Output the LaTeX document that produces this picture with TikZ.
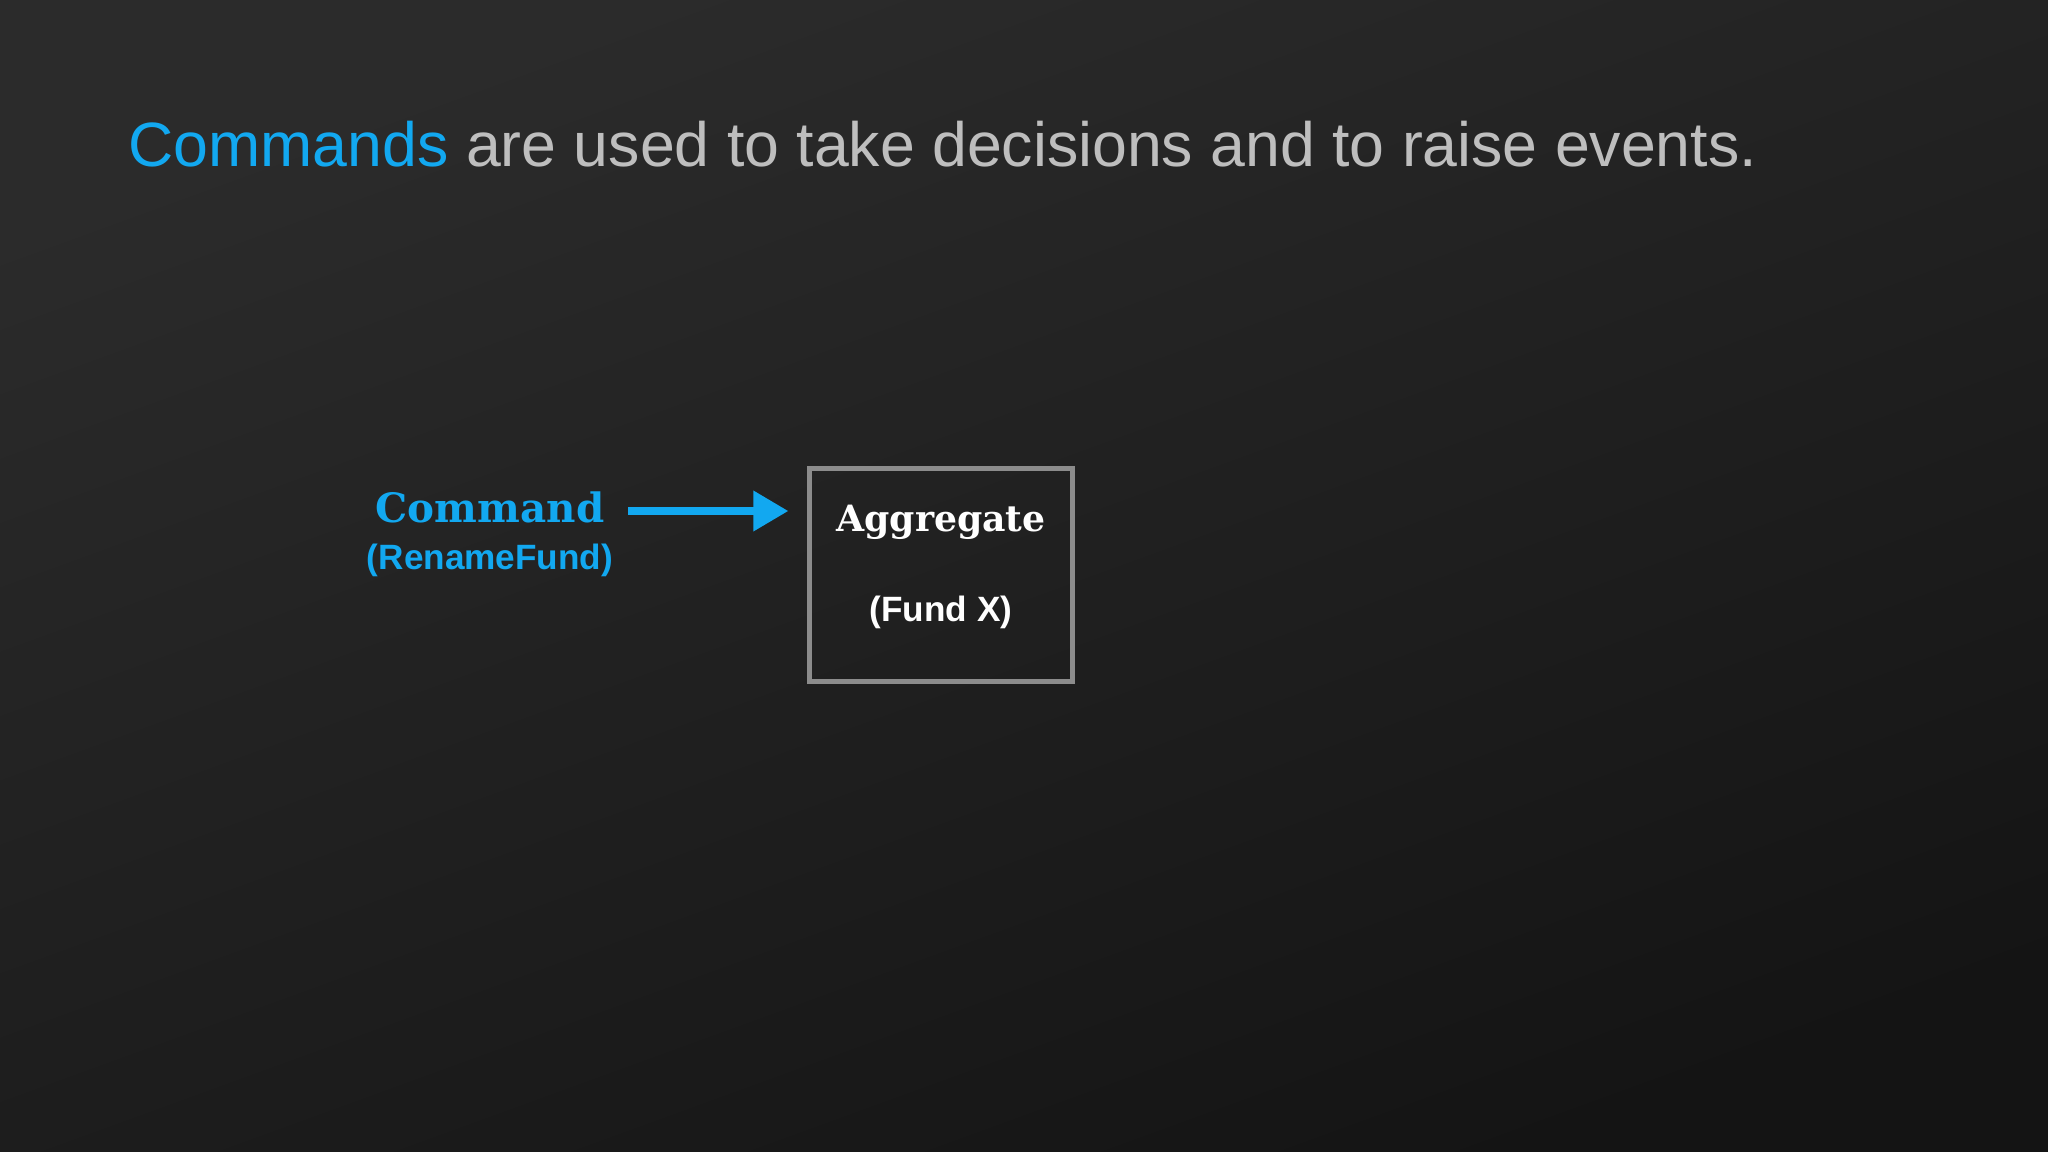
\documentclass[tikz,border=0pt]{standalone}
\usepackage{fontspec}
\setmainfont{Liberation Sans}
\newfontfamily\slabfont{DejaVu Serif}
\usetikzlibrary{arrows.meta,positioning}
\definecolor{cmdblue}{HTML}{12A8F0}
\definecolor{titlegray}{HTML}{BEBEBE}
\definecolor{boxgray}{HTML}{8C8C8C}
\tikzset{cmdarrow/.style={-{Triangle[length=10pt,width=11pt]},line width=2.3pt,cmdblue}}
\tikzset{slabtext/.style={font=\slabfont\bfseries\fontsize{11.5}{14}\selectfont,inner sep=0pt}}
\tikzset{sanstext/.style={font=\bfseries\fontsize{10}{12}\selectfont,inner sep=0pt}}
\tikzset{aggbox/.style={draw=boxgray,line width=1.4pt,minimum width=2.62cm,minimum height=2.12cm,inner sep=0pt}}

\begin{document}
\begin{tikzpicture}[x=0.01cm,y=-0.01cm]
    % background
    \shade[top color=black!83,bottom color=black!92,shading angle=20] (0,0) rectangle (2048,1152);
    \useasboundingbox (0,0) rectangle (2048,1152);
    % title
    \node[anchor=base west,inner sep=0pt,font=\fontsize{17.8}{22}\selectfont] (title) at (128,167)
        {\textcolor{cmdblue}{Commands} \textcolor{titlegray}{are used to take decisions and to raise events.}};
    % command
    \node[slabtext,cmdblue] (cmd) at (490,507) {Command};
    \node[sanstext,cmdblue,below=2mm of cmd] (cmdname) {(RenameFund)};
    % aggregate
    \node[aggbox] (agg) at (941,575) {};
    \node[slabtext,white,font=\slabfont\bfseries\fontsize{10.3}{12}\selectfont] (aggname) at (941,522) {Aggregate};
    \node[sanstext,white] (fund) at (941,612) {(Fund X)};
    \draw[cmdarrow] ([xshift=0.23cm,yshift=-0.04cm]cmd.east) -- ([xshift=-0.19cm,yshift=-0.04cm]cmd.east -| agg.west);
\end{tikzpicture}
\end{document}
